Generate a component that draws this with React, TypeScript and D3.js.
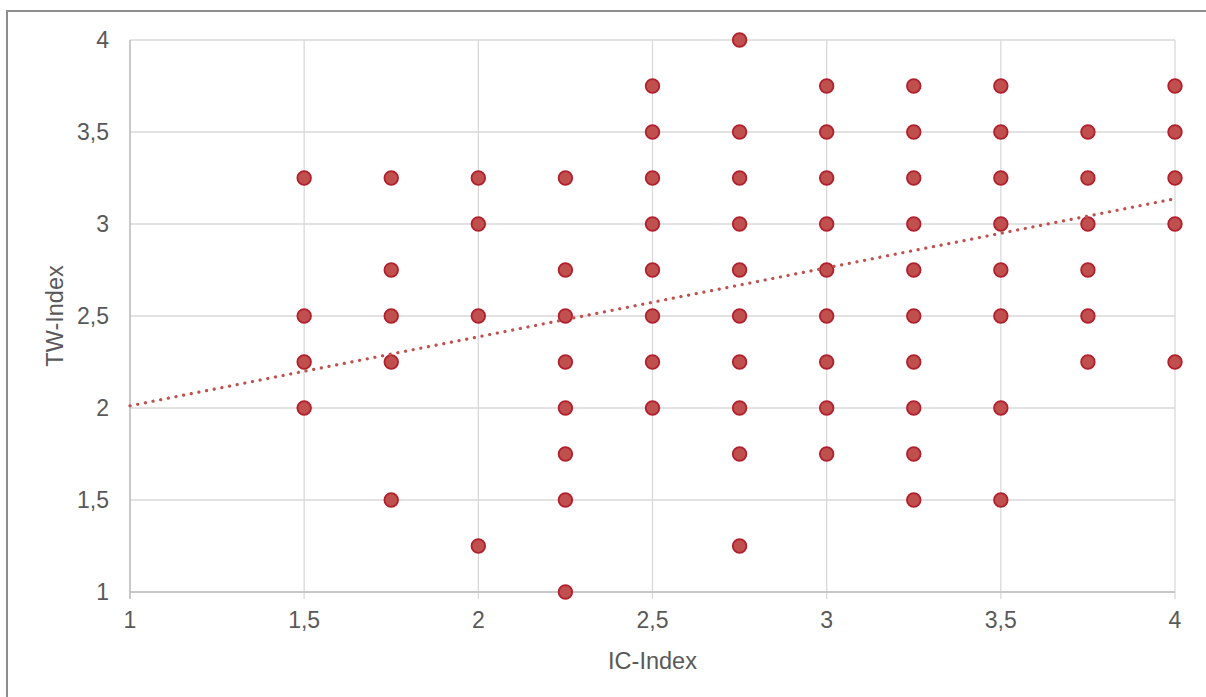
import * as d3 from 'd3'

// observed IC-Index (x) / TW-Index (y) pairs, grouped by column
const icValues = [1.5, 1.75, 2, 2.25, 2.5, 2.75, 3, 3.25, 3.5, 3.75, 4]
const twByIc: number[][] = [
  [3.25, 2.5, 2.25, 2],
  [3.25, 2.75, 2.5, 2.25, 1.5],
  [3.25, 3, 2.5, 1.25],
  [3.25, 2.75, 2.5, 2.25, 2, 1.75, 1.5, 1],
  [3.75, 3.5, 3.25, 3, 2.75, 2.5, 2.25, 2],
  [4, 3.5, 3.25, 3, 2.75, 2.5, 2.25, 2, 1.75, 1.25],
  [3.75, 3.5, 3.25, 3, 2.75, 2.5, 2.25, 2, 1.75],
  [3.75, 3.5, 3.25, 3, 2.75, 2.5, 2.25, 2, 1.75, 1.5],
  [3.75, 3.5, 3.25, 3, 2.75, 2.5, 2, 1.5],
  [3.5, 3.25, 3, 2.75, 2.5, 2.25],
  [3.75, 3.5, 3.25, 3, 2.25],
]
const xTicks = [1, 1.5, 2, 2.5, 3, 3.5, 4]
const yTicks = [1, 1.5, 2, 2.5, 3, 3.5, 4]
// linear trend line
const trendIntercept = 1.637
const trendSlope = 0.375

const W = 1206
const H = 697
const margin = { left: 130, right: 31, top: 40, bottom: 105 }

const fmt = (v: number) => String(v).replace('.', ',')

export default function App() {
  const x = d3.scaleLinear().domain([1, 4]).range([margin.left, W - margin.right])
  const y = d3.scaleLinear().domain([1, 4]).range([H - margin.bottom, margin.top])

  const points = icValues.flatMap((ic, i) => twByIc[i].map((tw) => ({ ic, tw })))
  const trendLine = d3.line<number>()
    .x((d) => x(d))
    .y((d) => y(trendIntercept + trendSlope * d))

  const font = '"Liberation Sans", Arial, sans-serif'
  const grid = '#d9d9d9'
  const text = '#595959'

  return (
    <svg width={W} height={H} style={{ position: 'absolute', left: 0, top: 0, background: '#fff' }}>
      <rect x={7} y={11} width={W + 10} height={H + 10} fill="#fff" stroke="#8c8c8c" strokeWidth={2} />
      {xTicks.map((t) => (
        <line key={'gx' + t} x1={x(t)} x2={x(t)} y1={y(4)} y2={y(1) + 7} stroke={grid} strokeWidth={1.3} />
      ))}
      {yTicks.map((t) => (
        <line key={'gy' + t} x1={x(1)} x2={x(4)} y1={y(t)} y2={y(t)} stroke={grid} strokeWidth={1.3} />
      ))}
      <line x1={x(1)} x2={x(4)} y1={y(1)} y2={y(1)} stroke="#bfbfbf" strokeWidth={1.5} />
      <line x1={x(1)} x2={x(1)} y1={y(4)} y2={y(1) + 7} stroke="#bfbfbf" strokeWidth={1.5} />
      {xTicks.map((t) => (
        <text key={'tx' + t} x={x(t)} y={y(1) + 36} textAnchor="middle" fontFamily={font} fontSize={23} fill={text}>
          {fmt(t)}
        </text>
      ))}
      {yTicks.map((t) => (
        <text key={'ty' + t} x={x(1) - 21} y={y(t) + 8} textAnchor="end" fontFamily={font} fontSize={23} fill={text}>
          {fmt(t)}
        </text>
      ))}
      <text x={(x(1) + x(4)) / 2} y={669} textAnchor="middle" fontFamily={font} fontSize={23.5} fill={text}>
        IC-Index
      </text>
      <text
        transform={`translate(63, ${(y(1) + y(4)) / 2}) rotate(-90)`}
        textAnchor="middle"
        fontFamily={font}
        fontSize={23.5}
        fill={text}
      >
        TW-Index
      </text>
      {points.map((p, i) => (
        <circle
          key={i}
          cx={x(p.ic)}
          cy={y(p.tw)}
          r={6.8}
          fill="#c0504d"
          stroke="#b21f2d"
          strokeWidth={1.8}
        />
      ))}
      <path
        d={trendLine([1, 4]) ?? ''}
        fill="none"
        stroke="#c0504d"
        strokeWidth={3.2}
        strokeLinecap="round"
        strokeDasharray="0.1 7.7"
      />
    </svg>
  )
}
